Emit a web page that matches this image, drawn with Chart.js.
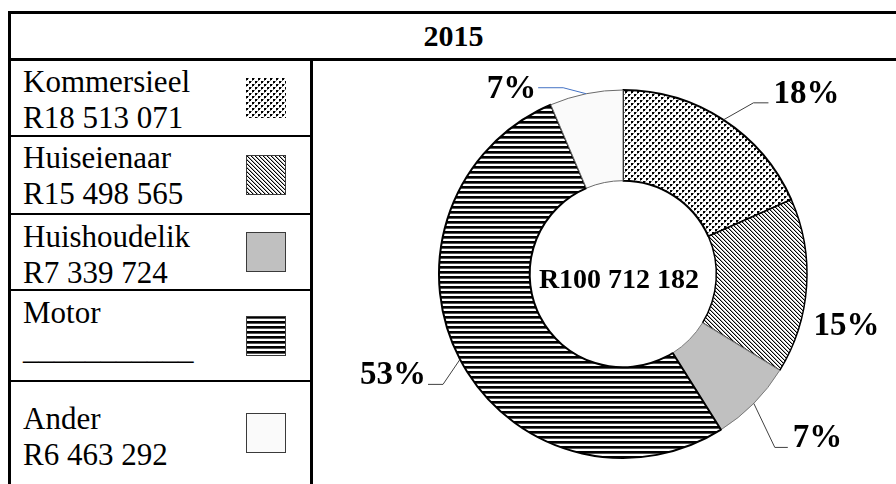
<!DOCTYPE html>
<html>
<head>
<meta charset="utf-8">
<title>2015</title>
<script src="https://cdn.jsdelivr.net/npm/chart.js"></script>
<style>
  html, body {
    margin: 0;
    padding: 0;
    width: 896px;
    height: 484px;
    overflow: hidden;
    background: #fff;
    font-family: "Liberation Serif", "Times New Roman", serif;
    color: #000;
  }
  #frame { position: relative; width: 896px; height: 484px; }
  .rule { position: absolute; background: #000; }
  #title {
    position: absolute;
    left: 11px; top: 14px; width: 885px; height: 44px;
    line-height: 44px;
    text-align: center;
    font-weight: bold;
    font-size: 30px;
  }
  .row { position: absolute; left: 11px; width: 299px; }
  .row .txt {
    position: absolute;
    left: 12px;
    font-family: "Liberation Serif", serif;
    font-size: 31px;
    line-height: 36px;
    white-space: pre;
  }
  .row canvas { position: absolute; left: 235px; }
  #chart-box { position: absolute; left: 313px; top: 61px; width: 583px; height: 423px; }
</style>
</head>
<body>
<div id="frame">
  <div id="title"></div>
  <div id="legend"></div>
  <div id="chart-box"><canvas id="donut" width="583" height="423"></canvas></div>
</div>
<script>
  // values
  const year = '2015';
  const categories = ['Kommersieel', 'Huiseienaar', 'Huishoudelik', 'Motor', 'Ander'];
  const amounts = [18513071, 15498565, 7339724, 52897530, 6463292];
  const amountLabels = ['R18 513 071', 'R15 498 565', 'R7 339 724', '___________', 'R6 463 292'];
  const percentLabels = ['18%', '15%', '7%', '53%', '7%'];
  const totalLabel = 'R100 712 182';

  // ---- fills ----
  const makePattern = (kind) => {
    const c = document.createElement('canvas');
    const g = c.getContext('2d');
    if (kind === 'dots') {
      c.width = 6; c.height = 6;
      g.fillStyle = '#fff'; g.fillRect(0, 0, 6, 6);
      g.fillStyle = '#000';
      [[0, 0], [3, 3]].forEach(([a, b]) => g.fillRect(a, b, 2, 2));
      g.fillStyle = '#777';
      [[2, 0], [0, 2], [5, 3], [3, 5]].forEach(([a, b]) => g.fillRect(a, b, 1, 1));
    } else if (kind === 'diag') {
      c.width = 4; c.height = 4;
      g.fillStyle = '#fff'; g.fillRect(0, 0, 4, 4);
      g.fillStyle = '#000';
      for (let i = 0; i < 4; i++) g.fillRect(i, i, 1, 1);
      g.fillStyle = '#aaa';
      for (let i = 0; i < 4; i++) g.fillRect((i + 1) % 4, i, 1, 1);
    } else if (kind === 'hstripe') {
      c.width = 4; c.height = 5;
      g.fillStyle = '#fff'; g.fillRect(0, 0, 4, 5);
      g.fillStyle = '#000'; g.fillRect(0, 0, 4, 2);
      g.fillStyle = '#555'; g.fillRect(0, 2, 4, 1);
    }
    return g.createPattern(c, 'repeat');
  };

  const fills = [makePattern('dots'), makePattern('diag'), '#c0c0c0', makePattern('hstripe'), '#fafafa'];
  const borders = ['#000', '#000', '#7a7a7a', '#000', '#6a6a6a'];
  const borderWidths = [2, 1.5, 1, 2, 1];

  // ---- frame ----
  const frame = document.getElementById('frame');
  const addRule = (l, t, w, h) => {
    const d = document.createElement('div');
    d.className = 'rule';
    d.style.cssText = `left:${l}px;top:${t}px;width:${w}px;height:${h}px`;
    frame.appendChild(d);
  };
  addRule(8, 11, 888, 3);
  addRule(8, 11, 3, 473);
  addRule(8, 58, 888, 3);
  addRule(310, 58, 3, 426);
  [135, 213, 289, 380].forEach((t) => addRule(8, t, 302, 2));

  document.getElementById('title').textContent = year;

  // ---- legend column ----
  const rowTop = [61, 137, 215, 291, 382];
  const rowBottom = [135, 213, 289, 380, 484];
  const textPad = [3, 3, 4, 4, 19];
  const legendEl = document.getElementById('legend');

  categories.forEach((name, i) => {
    const row = document.createElement('div');
    row.className = 'row';
    row.style.top = rowTop[i] + 'px';
    row.style.height = (rowBottom[i] - rowTop[i]) + 'px';

    const txt = document.createElement('div');
    txt.className = 'txt';
    txt.style.top = textPad[i] + 'px';
    txt.textContent = name + '\n' + amountLabels[i];
    row.appendChild(txt);

    const sw = document.createElement('canvas');
    sw.width = 40; sw.height = 40;
    sw.style.top = ((rowBottom[i] - rowTop[i]) / 2 - 20) + 'px';
    const g = sw.getContext('2d');
    g.fillStyle = fills[i];
    g.fillRect(0, 0, 40, 40);
    if (i !== 0) {
      g.strokeStyle = '#3a3a3a';
      g.lineWidth = 1;
      g.strokeRect(0.5, 0.5, 39, 39);
    }
    row.appendChild(sw);
    legendEl.appendChild(row);
  });

  // ---- label placement (leader elbow offset, run, text side) ----
  const labelLayout = [
    { ex: 30, ey: -17, run: 15, color: '#404040' },
    { tx: 40, ty: 40 },
    { ex: 21, ey: 44, run: 13, color: '#404040' },
    { ex: -17, ey: 25, run: -15, color: '#404040' },
    { ex: -23, ey: -6, run: -25, color: '#4472c4', middle: true },
  ];

  const sliceLabels = {
    id: 'sliceLabels',
    afterDatasetsDraw(chart) {
      const ctx = chart.ctx;
      const arcs = chart.getDatasetMeta(0).data;
      ctx.save();
      ctx.font = 'bold 33px "Liberation Serif", serif';
      ctx.fillStyle = '#000';
      arcs.forEach((arc, i) => {
        const { x, y, startAngle, endAngle, outerRadius } =
          arc.getProps(['x', 'y', 'startAngle', 'endAngle', 'outerRadius'], true);
        const mid = (startAngle + endAngle) / 2;
        const px = x + Math.cos(mid) * outerRadius;
        const py = y + Math.sin(mid) * outerRadius;
        const lay = labelLayout[i];

        if (lay.run === undefined) {
          ctx.textAlign = 'center';
          ctx.textBaseline = 'middle';
          ctx.fillText(percentLabels[i], px + lay.tx, py + lay.ty);
          return;
        }
        const ex = px + lay.ex, ey = py + lay.ey;
        const endX = ex + lay.run;
        ctx.strokeStyle = lay.color;
        ctx.lineWidth = 1;
        ctx.beginPath();
        ctx.moveTo(px, py);
        ctx.lineTo(ex, ey);
        ctx.lineTo(endX, ey);
        ctx.stroke();

        ctx.textAlign = lay.run > 0 ? 'left' : 'right';
        ctx.textBaseline = lay.middle ? 'middle' : 'alphabetic';
        const tx = endX + (lay.run > 0 ? 5 : -2);
        ctx.fillText(percentLabels[i], tx, lay.middle ? ey + 2 : ey);
      });

      const c = arcs[0];
      ctx.font = 'bold 28px "Liberation Serif", serif';
      ctx.textAlign = 'center';
      ctx.textBaseline = 'middle';
      ctx.fillText(totalLabel, c.x - 4, c.y + 7);
      ctx.restore();
    }
  };

  new Chart(document.getElementById('donut'), {
    type: 'doughnut',
    data: {
      labels: categories,
      datasets: [{
        data: amounts,
        backgroundColor: fills,
        borderColor: borders,
        borderWidth: borderWidths,
      }]
    },
    options: {
      responsive: false,
      animation: false,
      events: [],
      radius: 184,
      cutout: 106,
      layout: { padding: { left: 37, top: 3, right: 0, bottom: 0 } },
      plugins: {
        legend: { display: false },
        tooltip: { enabled: false },
      }
    },
    plugins: [sliceLabels]
  });
</script>
</body>
</html>
